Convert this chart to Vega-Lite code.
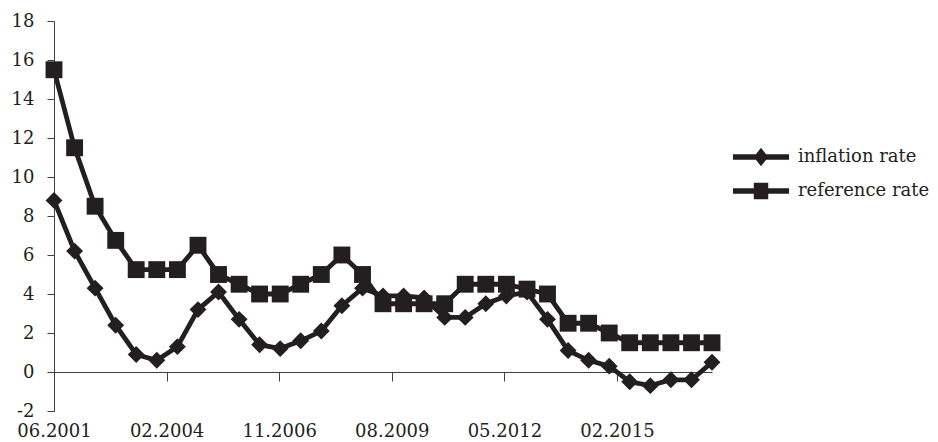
{
  "$schema": "https://vega.github.io/schema/vega-lite/v6.json",
  "width": 658,
  "height": 390,
  "autosize": {"type": "none"},
  "padding": {"left": 54, "top": 21, "right": 226, "bottom": 31},
  "background": "white",
  "config": {
    "view": {"stroke": null},
    "font": "DejaVu Serif, Liberation Serif, serif",
    "axis": {"labelFont": "DejaVu Serif, Liberation Serif, serif", "labelFontSize": 18, "labelColor": "#231f20", "domainColor": "#404040", "tickColor": "#404040", "grid": false, "title": null},
    "legend": {"labelFont": "DejaVu Serif, Liberation Serif, serif"}
  },
  "data": {
    "values": [
      {"date": "2001-06-01T00:00:00", "series": "inflation rate", "value": 8.8},
      {"date": "2001-12-01T00:00:00", "series": "inflation rate", "value": 6.2},
      {"date": "2002-06-01T00:00:00", "series": "inflation rate", "value": 4.3},
      {"date": "2002-12-01T00:00:00", "series": "inflation rate", "value": 2.4},
      {"date": "2003-06-01T00:00:00", "series": "inflation rate", "value": 0.9},
      {"date": "2003-12-01T00:00:00", "series": "inflation rate", "value": 0.6},
      {"date": "2004-06-01T00:00:00", "series": "inflation rate", "value": 1.3},
      {"date": "2004-12-01T00:00:00", "series": "inflation rate", "value": 3.2},
      {"date": "2005-06-01T00:00:00", "series": "inflation rate", "value": 4.1},
      {"date": "2005-12-01T00:00:00", "series": "inflation rate", "value": 2.7},
      {"date": "2006-06-01T00:00:00", "series": "inflation rate", "value": 1.4},
      {"date": "2006-12-01T00:00:00", "series": "inflation rate", "value": 1.2},
      {"date": "2007-06-01T00:00:00", "series": "inflation rate", "value": 1.6},
      {"date": "2007-12-01T00:00:00", "series": "inflation rate", "value": 2.1},
      {"date": "2008-06-01T00:00:00", "series": "inflation rate", "value": 3.4},
      {"date": "2008-12-01T00:00:00", "series": "inflation rate", "value": 4.3},
      {"date": "2009-06-01T00:00:00", "series": "inflation rate", "value": 3.9},
      {"date": "2009-12-01T00:00:00", "series": "inflation rate", "value": 3.9},
      {"date": "2010-06-01T00:00:00", "series": "inflation rate", "value": 3.8},
      {"date": "2010-12-01T00:00:00", "series": "inflation rate", "value": 2.8},
      {"date": "2011-06-01T00:00:00", "series": "inflation rate", "value": 2.8},
      {"date": "2011-12-01T00:00:00", "series": "inflation rate", "value": 3.5},
      {"date": "2012-06-01T00:00:00", "series": "inflation rate", "value": 3.9},
      {"date": "2012-12-01T00:00:00", "series": "inflation rate", "value": 4.1},
      {"date": "2013-06-01T00:00:00", "series": "inflation rate", "value": 2.7},
      {"date": "2013-12-01T00:00:00", "series": "inflation rate", "value": 1.1},
      {"date": "2014-06-01T00:00:00", "series": "inflation rate", "value": 0.6},
      {"date": "2014-12-01T00:00:00", "series": "inflation rate", "value": 0.3},
      {"date": "2015-06-01T00:00:00", "series": "inflation rate", "value": -0.5},
      {"date": "2015-12-01T00:00:00", "series": "inflation rate", "value": -0.7},
      {"date": "2016-06-01T00:00:00", "series": "inflation rate", "value": -0.4},
      {"date": "2016-12-01T00:00:00", "series": "inflation rate", "value": -0.4},
      {"date": "2017-06-01T00:00:00", "series": "inflation rate", "value": 0.5},
      {"date": "2001-06-01T00:00:00", "series": "reference rate", "value": 15.5},
      {"date": "2001-12-01T00:00:00", "series": "reference rate", "value": 11.5},
      {"date": "2002-06-01T00:00:00", "series": "reference rate", "value": 8.5},
      {"date": "2002-12-01T00:00:00", "series": "reference rate", "value": 6.75},
      {"date": "2003-06-01T00:00:00", "series": "reference rate", "value": 5.25},
      {"date": "2003-12-01T00:00:00", "series": "reference rate", "value": 5.25},
      {"date": "2004-06-01T00:00:00", "series": "reference rate", "value": 5.25},
      {"date": "2004-12-01T00:00:00", "series": "reference rate", "value": 6.5},
      {"date": "2005-06-01T00:00:00", "series": "reference rate", "value": 5.0},
      {"date": "2005-12-01T00:00:00", "series": "reference rate", "value": 4.5},
      {"date": "2006-06-01T00:00:00", "series": "reference rate", "value": 4.0},
      {"date": "2006-12-01T00:00:00", "series": "reference rate", "value": 4.0},
      {"date": "2007-06-01T00:00:00", "series": "reference rate", "value": 4.5},
      {"date": "2007-12-01T00:00:00", "series": "reference rate", "value": 5.0},
      {"date": "2008-06-01T00:00:00", "series": "reference rate", "value": 6.0},
      {"date": "2008-12-01T00:00:00", "series": "reference rate", "value": 5.0},
      {"date": "2009-06-01T00:00:00", "series": "reference rate", "value": 3.5},
      {"date": "2009-12-01T00:00:00", "series": "reference rate", "value": 3.5},
      {"date": "2010-06-01T00:00:00", "series": "reference rate", "value": 3.5},
      {"date": "2010-12-01T00:00:00", "series": "reference rate", "value": 3.5},
      {"date": "2011-06-01T00:00:00", "series": "reference rate", "value": 4.5},
      {"date": "2011-12-01T00:00:00", "series": "reference rate", "value": 4.5},
      {"date": "2012-06-01T00:00:00", "series": "reference rate", "value": 4.5},
      {"date": "2012-12-01T00:00:00", "series": "reference rate", "value": 4.25},
      {"date": "2013-06-01T00:00:00", "series": "reference rate", "value": 4.0},
      {"date": "2013-12-01T00:00:00", "series": "reference rate", "value": 2.5},
      {"date": "2014-06-01T00:00:00", "series": "reference rate", "value": 2.5},
      {"date": "2014-12-01T00:00:00", "series": "reference rate", "value": 2.0},
      {"date": "2015-06-01T00:00:00", "series": "reference rate", "value": 1.5},
      {"date": "2015-12-01T00:00:00", "series": "reference rate", "value": 1.5},
      {"date": "2016-06-01T00:00:00", "series": "reference rate", "value": 1.5},
      {"date": "2016-12-01T00:00:00", "series": "reference rate", "value": 1.5},
      {"date": "2017-06-01T00:00:00", "series": "reference rate", "value": 1.5}
    ]
  },
  "encoding": {
    "x": {
      "field": "date",
      "type": "temporal",
      "scale": {"domain": [{"year": 2001, "month": 6, "date": 1}, {"year": 2017, "month": 6, "date": 1}]},
      "axis": {
        "orient": "bottom",
        "offset": -39,
        "values": [
          {"year": 2001, "month": 6, "date": 1},
          {"year": 2004, "month": 2, "date": 26},
          {"year": 2006, "month": 11, "date": 22},
          {"year": 2009, "month": 8, "date": 18},
          {"year": 2012, "month": 5, "date": 14},
          {"year": 2015, "month": 2, "date": 8}
        ],
        "format": "%m.%Y",
        "tickSize": 9,
        "labelPadding": 41,
        "labelFlush": false,
        "labelOverlap": false
      }
    },
    "y": {
      "field": "value",
      "type": "quantitative",
      "scale": {"domain": [-2, 18], "nice": false, "zero": false},
      "axis": {
        "values": [-2, 0, 2, 4, 6, 8, 10, 12, 14, 16, 18],
        "tickSize": 7,
        "labelPadding": 13,
        "labelExpr": "datum.value < 0 ? '-' + abs(datum.value) : datum.label"
      }
    }
  },
  "layer": [
    {
      "mark": {"type": "line", "color": "#231f20", "strokeWidth": 4.8},
      "encoding": {"detail": {"field": "series"}}
    },
    {
      "mark": {"type": "point", "filled": true, "color": "#231f20", "opacity": 1, "size": 285},
      "encoding": {
        "shape": {
          "field": "series",
          "type": "nominal",
          "scale": {"domain": ["inflation rate", "reference rate"], "range": ["diamond", "square"]},
          "legend": null
        }
      }
    },
    {
      "transform": [{"filter": "datum.value > 100"}],
      "mark": {"type": "point", "filled": true, "color": "#231f20", "opacity": 1},
      "encoding": {
        "shape": {
          "field": "series",
          "type": "nominal",
          "scale": {
            "domain": ["inflation rate", "reference rate"],
            "range": [
              "M-3.3,-0.32L-0.6,-0.32L0,-1.1L0.6,-0.32L3.3,-0.32L3.3,0.32L0.6,0.32L0,1.1L-0.6,0.32L-3.3,0.32Z",
              "M-3.3,-0.32L-0.85,-0.32L-0.85,-0.96L0.85,-0.96L0.85,-0.32L3.3,-0.32L3.3,0.32L0.85,0.32L0.85,0.96L-0.85,0.96L-0.85,0.32L-3.3,0.32Z"
            ]
          },
          "legend": {
            "title": null,
            "orient": "none",
            "legendX": 698,
            "legendY": 127,
            "padding": 0,
            "symbolSize": 289,
            "symbolOpacity": 1,
            "symbolFillColor": "#231f20",
            "symbolStrokeColor": "#231f20",
            "symbolStrokeWidth": 0,
            "labelFont": "DejaVu Serif, Liberation Serif, serif",
            "labelFontSize": 18,
            "labelColor": "#231f20",
            "labelOffset": 28,
            "rowPadding": 15
          }
        }
      }
    }
  ],
  "resolve": {"scale": {"shape": "independent"}, "legend": {"shape": "independent"}}
}
